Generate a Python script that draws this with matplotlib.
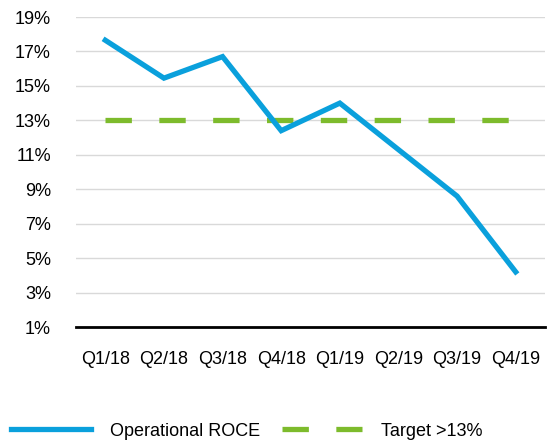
import matplotlib
matplotlib.use("Agg")
import matplotlib.pyplot as plt
from matplotlib.ticker import FixedLocator, FuncFormatter

categories = ["Q1/18", "Q2/18", "Q3/18", "Q4/18", "Q1/19", "Q2/19", "Q3/19", "Q4/19"]
roce = [17.65, 15.45, 16.7, 12.4, 14.0, 11.3, 8.6, 4.2]
target = [13, 13, 13, 13, 13, 13, 13, 13]
yticks = [1, 3, 5, 7, 9, 11, 13, 15, 17, 19]

plt.rcParams['font.family'] = ['Liberation Sans', 'DejaVu Sans']

fig = plt.figure(figsize=(5.47, 4.42), dpi=100)
ax = fig.add_axes([76/547, 1 - 327/442, (545 - 76)/547, (327 - 17)/442])

x = list(range(len(categories)))
ax.plot(x, roce, color="#0AA0DC", lw=3.8, solid_joinstyle="miter", label="Operational ROCE", zorder=3)
ax.plot(x, target, color="#7DBB2C", lw=3.8, dashes=(5.0, 5.2), dash_capstyle="butt",
        label="Target >13%", zorder=2)

ax.set_xlim(-0.5, len(categories) - 0.5)
ax.set_ylim(1, 19)
ax.yaxis.set_major_locator(FixedLocator(yticks))
ax.yaxis.set_major_formatter(FuncFormatter(lambda v, p: f"{v:.0f}%"))
ax.set_xticks(x)
ax.set_xticklabels(categories)
ax.grid(axis="y", color="#D9D9D9", lw=1.0)
ax.set_axisbelow(True)
for s in ["top", "right", "left"]:
    ax.spines[s].set_visible(False)
ax.spines["bottom"].set_color("black")
ax.spines["bottom"].set_linewidth(2.0)
ax.spines["bottom"].set_zorder(4)
ax.tick_params(axis="both", length=0, labelsize=13, colors="black")
ax.tick_params(axis="y", pad=18)
ax.tick_params(axis="x", pad=17)

fig.legend(loc="center left", bbox_to_anchor=(11/547, 1 - 431/442), ncol=2, frameon=False,
           fontsize=13, handlelength=4.43, handletextpad=1.05, columnspacing=1.22,
           borderpad=0, borderaxespad=0)

fig.savefig("out.png", dpi=100)
